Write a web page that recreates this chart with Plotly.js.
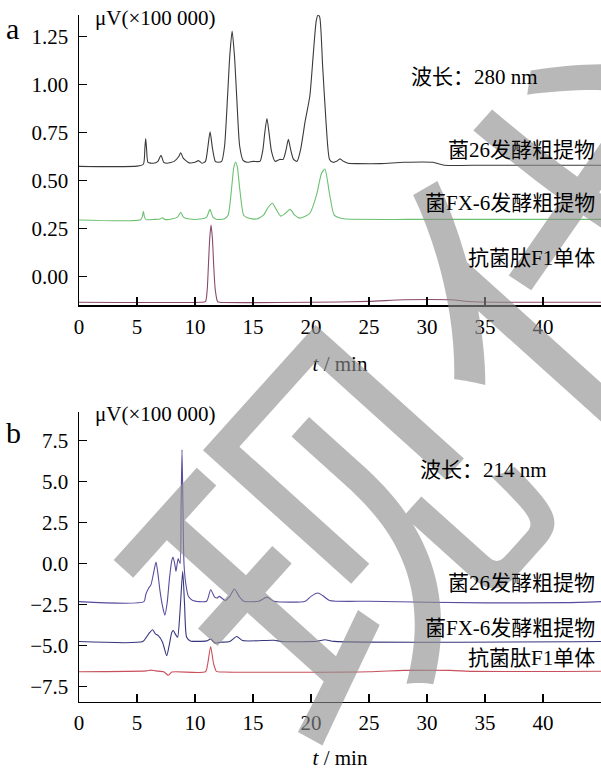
<!DOCTYPE html>
<html><head><meta charset="utf-8">
<script src="https://cdn.plot.ly/plotly-3.0.1.min.js"></script>
<style>html,body{margin:0;padding:0;background:#fff}</style>
</head><body><div id="chart" style="width:601px;height:770px"></div>
<script>
// ---------- Panel a (280 nm) ----------
const a26_t = [0,5.0,5.55,5.68,5.75,5.83,5.95,6.4,6.8,7.07,7.3,7.6,8.2,8.6,8.77,9.0,9.5,10.0,10.3,10.6,10.9,11.1,11.3,11.5,11.75,12.0,12.3,12.55,12.8,13.0,13.2,13.4,13.6,13.85,14.15,14.5,15.0,15.6,15.85,16.0,16.2,16.4,16.6,16.9,17.3,17.6,17.85,18.05,18.25,18.5,18.8,19.1,19.5,19.9,20.2,20.45,20.6,20.75,21.0,21.3,21.6,21.9,22.2,22.5,22.8,23.2,24.0,26,28,30.5,31.5,35,40,45];
const a26_v = [0.574,0.575,0.585,0.67,0.719,0.66,0.595,0.59,0.60,0.632,0.595,0.59,0.60,0.625,0.645,0.615,0.592,0.595,0.604,0.59,0.60,0.67,0.753,0.67,0.60,0.595,0.60,0.68,0.93,1.15,1.278,1.15,0.93,0.68,0.605,0.595,0.60,0.60,0.66,0.74,0.823,0.74,0.65,0.60,0.61,0.61,0.66,0.715,0.66,0.61,0.60,0.66,0.81,0.94,1.16,1.33,1.361,1.35,1.10,0.80,0.61,0.595,0.60,0.613,0.60,0.59,0.588,0.588,0.595,0.595,0.58,0.58,0.58,0.58];

const aFX_t = [0,5.3,5.45,5.55,5.65,5.8,6.5,7.0,7.2,7.4,8.0,8.5,8.77,9.0,9.5,10.5,11.0,11.29,11.55,11.9,12.5,12.85,13.14,13.35,13.5,13.65,13.87,14.2,14.6,15.3,15.9,16.3,16.67,17.0,17.4,17.8,18.2,18.6,19.0,19.5,19.9,20.5,20.9,21.2,21.6,22.0,22.5,23,30,45];
const aFX_v = [0.295,0.296,0.31,0.34,0.31,0.297,0.298,0.30,0.307,0.298,0.30,0.31,0.335,0.31,0.30,0.30,0.31,0.35,0.31,0.298,0.30,0.32,0.45,0.57,0.595,0.57,0.45,0.32,0.305,0.30,0.32,0.36,0.382,0.35,0.315,0.33,0.35,0.32,0.305,0.315,0.33,0.43,0.537,0.56,0.43,0.32,0.305,0.30,0.298,0.298];

const aF1_t = [0,10.5,10.9,11.05,11.15,11.27,11.38,11.5,11.62,11.75,11.95,12.1,20,25,28,32,34,45];
const aF1_v = [-0.133,-0.133,-0.13,-0.07,0.05,0.2,0.269,0.2,0.05,-0.07,-0.13,-0.133,-0.133,-0.128,-0.12,-0.12,-0.13,-0.133];

// ---------- Panel b (214 nm) ----------
const b26_t = [0,5.6,5.75,6.0,6.2,6.45,6.64,6.8,6.97,7.2,7.4,7.6,7.8,8.0,8.1,8.25,8.36,8.55,8.72,8.8,8.88,8.96,9.05,9.2,9.43,9.8,11.0,11.35,11.7,11.9,12.1,12.6,13.0,13.4,13.8,14.2,15.5,16.2,16.8,19.5,20.0,20.6,21.0,21.6,25,35,42,45];
const b26_v = [-2.32,-2.32,-1.9,-1.5,-1.3,-0.5,0.1,-0.6,-1.6,-2.6,-3.15,-2.4,-0.9,0.2,0.4,0.0,-0.47,0.3,0.0,3.5,6.95,3.5,0.0,-1.2,-2.0,-2.25,-2.3,-1.6,-2.05,-2.1,-2.0,-2.25,-2.0,-1.55,-2.0,-2.3,-2.3,-2.05,-2.3,-2.3,-2.0,-1.8,-1.95,-2.25,-2.3,-2.4,-2.38,-2.32];

const bFX_t = [0,5.5,5.8,6.1,6.35,6.6,6.84,7.2,7.56,7.8,8.0,8.13,8.3,8.5,8.7,8.94,9.1,9.28,9.6,11.0,11.35,11.7,12.2,13.0,13.6,14.1,16.8,17.5,20.5,21.2,22.0,45];
const bFX_v = [-4.76,-4.76,-4.5,-4.2,-4.04,-4.3,-4.4,-4.8,-5.63,-4.9,-4.2,-4.08,-4.3,-4.5,-3.0,-0.47,-2.5,-4.5,-4.72,-4.72,-4.6,-4.85,-4.8,-4.75,-4.45,-4.7,-4.68,-4.76,-4.74,-4.65,-4.75,-4.76];

const bF1_t = [0,5.8,6.2,6.6,7.3,7.7,8.0,10.9,11.1,11.35,11.6,11.85,12.5,25,28,32,34,45];
const bF1_v = [-6.6,-6.55,-6.5,-6.55,-6.6,-6.82,-6.62,-6.6,-6.1,-5.06,-6.1,-6.58,-6.62,-6.6,-6.52,-6.52,-6.58,-6.57];

const xTicks = [0,5,10,15,20,25,30,35,40];
const yTicksA = [0,0.25,0.5,0.75,1.0,1.25];
const yTickTextA = ['0.00','0.25','0.50','0.75','1.00','1.25'];
const yTicksB = [-7.5,-5,-2.5,0,2.5,5,7.5];
const yTickTextB = ['\u22127.5','\u22125.0','\u22122.5','0.0','2.5','5.0','7.5'];

const seriesNames = ['菌26发酵粗提物','菌FX-6发酵粗提物','抗菌肽F1单体'];
const colorsA = ['#3a3a3a','#6cc072','#8a4a6a'];
const colorsB = ['#5a4c9e','#36367e','#c8505c'];

// ---------- helpers ----------
const W = 601, H = 770, L = 79;
const px = x => (x - L) / (W - L);
const py = y => (H - y) / H;
const FONT = 'Liberation Serif, "Noto Sans CJK SC", serif';

function tr(t, v, color, xa, ya, name) {
  return {x: t, y: v, type: 'scatter', mode: 'lines', name: name,
    line: {color: color, width: 1.1, shape: 'spline', smoothing: 0.6},
    xaxis: xa, yaxis: ya, hoverinfo: 'skip'};
}

const data = [
  tr(a26_t, a26_v, colorsA[0], 'x', 'y', seriesNames[0]),
  tr(aFX_t, aFX_v, colorsA[1], 'x', 'y', seriesNames[1]),
  tr(aF1_t, aF1_v, colorsA[2], 'x', 'y', seriesNames[2]),
  tr(b26_t, b26_v, colorsB[0], 'x2', 'y2', seriesNames[0]),
  tr(bFX_t, bFX_v, colorsB[1], 'x2', 'y2', seriesNames[1]),
  tr(bF1_t, bF1_v, colorsB[2], 'x2', 'y2', seriesNames[2])
];

const tf = {family: FONT, size: 21, color: '#000'};
function xax(anchor) {
  return {domain: [0, 1], anchor: anchor, range: [0, 45], tickvals: xTicks,
    ticks: 'inside', ticklen: 8, tickwidth: 1.5, tickcolor: '#000',
    showline: true, linewidth: 1.5, linecolor: '#000', showgrid: false, zeroline: false,
    tickfont: tf, ticklabelstandoff: 2,
    title: {text: '<i>t</i> / min', font: tf, standoff: 18}};
}
function yax(anchor, dom, rng, tv, tt) {
  return {domain: dom, anchor: anchor, range: rng, tickvals: tv, ticktext: tt,
    ticks: 'inside', ticklen: 8, tickwidth: 1.5, tickcolor: '#000',
    showline: true, linewidth: 1.5, linecolor: '#000', showgrid: false, zeroline: false,
    tickfont: tf, ticklabelstandoff: 5};
}

function ann(x, y, text, opts) {
  return Object.assign({xref: 'paper', yref: 'paper', x: px(x), y: py(y), text: text,
    showarrow: false, font: tf, xanchor: 'left', yanchor: 'middle'}, opts || {});
}

const annotations = [
  // watermark of the source image
  {xref: 'paper', yref: 'paper', x: px(695), y: py(102), text: '现代食品', showarrow: false,
   textangle: -48, xanchor: 'center', yanchor: 'middle',
   font: {family: '"Noto Sans CJK SC"', size: 375, weight: 400, color: 'rgba(140,140,140,0.62)'}},
  ann(4, 29, 'a', {font: {family: FONT, size: 30, color: '#000'}}),
  ann(4, 432, 'b', {font: {family: FONT, size: 30, color: '#000'}}),
  ann(93, 18, 'μV(×100 000)'),
  ann(93, 414, 'μV(×100 000)'),
  ann(409, 77, '波长：280 nm'),
  ann(418, 470, '波长：214 nm'),
  ann(597, 150, seriesNames[0], {xanchor: 'right'}),
  ann(597, 203, seriesNames[1], {xanchor: 'right'}),
  ann(597, 258, seriesNames[2], {xanchor: 'right'}),
  ann(597, 583, seriesNames[0], {xanchor: 'right'}),
  ann(597, 628, seriesNames[1], {xanchor: 'right'}),
  ann(597, 658, seriesNames[2], {xanchor: 'right'})
];

const layout = {
  width: W, height: H, margin: {l: L, r: 0, t: 0, b: 0},
  paper_bgcolor: '#fff', plot_bgcolor: 'rgba(0,0,0,0)',
  showlegend: false, font: tf,
  xaxis: xax('y'),
  yaxis: yax('x', [py(305), py(15)], [-0.147, 1.361], yTicksA, yTickTextA),
  xaxis2: xax('y2'),
  yaxis2: yax('x2', [py(701.7), py(411.7)], [-8.43, 9.27], yTicksB, yTickTextB),
  annotations: annotations
};

Plotly.newPlot('chart', data, layout, {staticPlot: true, displayModeBar: false});
</script></body></html>
